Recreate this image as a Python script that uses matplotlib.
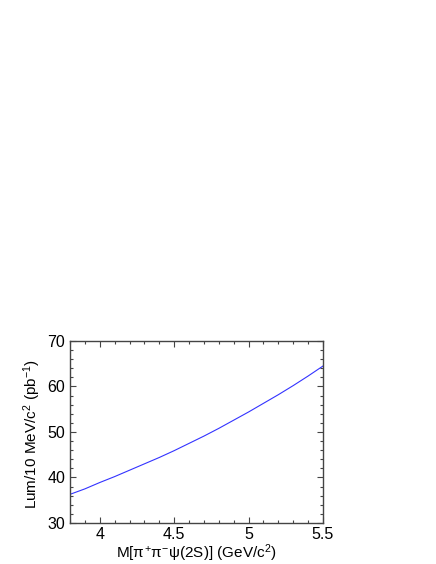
import numpy as np
import matplotlib.pyplot as plt
from matplotlib.ticker import MultipleLocator

plt.rcParams['font.family'] = ['Liberation Sans', 'DejaVu Sans']
plt.rcParams['mathtext.fontset'] = 'custom'
plt.rcParams['mathtext.rm'] = 'Liberation Sans'
plt.rcParams['mathtext.it'] = 'Liberation Sans'

# luminosity per 10 MeV/c^2 vs mass
mass = [3.8, 3.9, 4.0, 4.1, 4.2, 4.3, 4.4, 4.5, 4.6, 4.7, 4.8,
        4.9, 5.0, 5.1, 5.2, 5.3, 5.4, 5.5]
lum = [36.3, 37.5, 38.9, 40.2, 41.6, 43.0, 44.4, 45.9, 47.5, 49.1, 50.8,
       52.6, 54.4, 56.3, 58.2, 60.2, 62.3, 64.5]

fig = plt.figure(figsize=(4.36, 5.64), dpi=100)
ax = fig.add_axes([0.1606, 0.0727, 0.5802, 0.3227])
ax.plot(mass, lum, color='#3333ff', linewidth=0.8)

ax.set_xlim(3.8, 5.5)
ax.set_ylim(30, 70)
ax.xaxis.set_major_locator(MultipleLocator(0.5))
ax.xaxis.set_minor_locator(MultipleLocator(0.1))
ax.yaxis.set_major_locator(MultipleLocator(10))
ax.yaxis.set_minor_locator(MultipleLocator(2))
ax.set_xticks([4, 4.5, 5, 5.5])
ax.set_xticklabels(['4', '4.5', '5', '5.5'])
ax.tick_params(which='both', direction='in', top=True, right=True,
               color='#444444', labelsize=11.5)
ax.tick_params(which='major', length=4.5, width=0.8)
ax.tick_params(which='minor', length=2.3, width=0.8)
ax.tick_params(axis='y', pad=3.5)
ax.tick_params(axis='x', pad=3)
for s in ax.spines.values():
    s.set_color('#444444')
    s.set_linewidth(1.0)

ax.set_xlabel(r'M[$\pi^{+}\pi^{-}\psi$(2S)] (GeV/c$^{2}$)', fontsize=11,
              va='center')
ax.xaxis.set_label_coords(0.498, -0.166)
ax.set_ylabel(r'Lum/10 MeV/c$^{2}$ (pb$^{-1}$)', fontsize=11, va='center')
ax.yaxis.set_label_coords(-0.148, 0.489)

fig.savefig('out.png', dpi=100)
